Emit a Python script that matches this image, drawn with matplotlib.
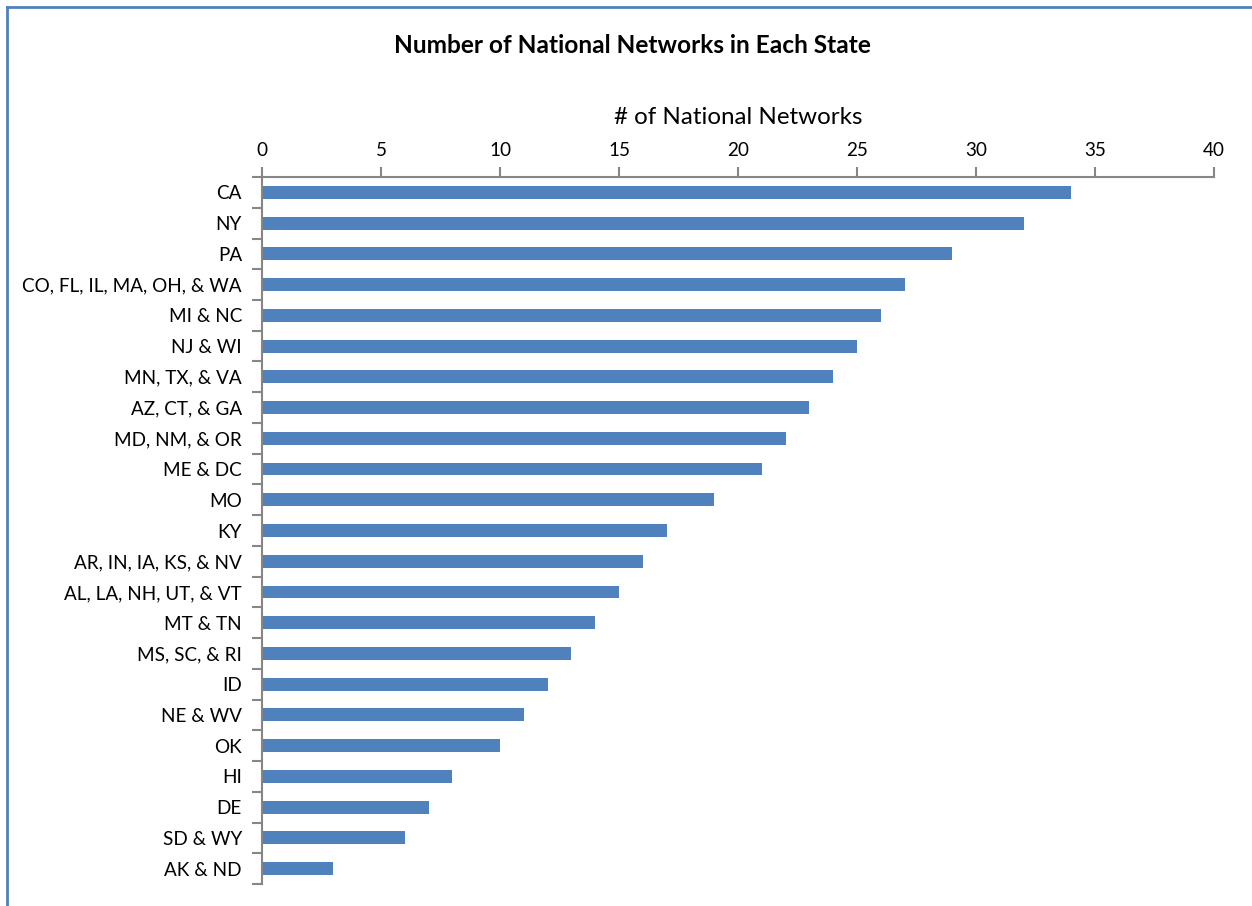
import matplotlib.pyplot as plt
from matplotlib.lines import Line2D

# ---------------------------
# Data (top to bottom)
# ---------------------------
states = ['CA', 'NY', 'PA', 'CO, FL, IL, MA, OH, & WA', 'MI & NC', 'NJ & WI',
          'MN, TX, & VA', 'AZ, CT, & GA', 'MD, NM, & OR', 'ME & DC', 'MO', 'KY',
          'AR, IN, IA, KS, & NV', 'AL, LA, NH, UT, & VT', 'MT & TN', 'MS, SC, & RI',
          'ID', 'NE & WV', 'OK', 'HI', 'DE', 'SD & WY', 'AK & ND']
networks = [34, 32, 29, 27, 26, 25, 24, 23, 22, 21, 19, 17,
            16, 15, 14, 13, 12, 11, 10, 8, 7, 6, 3]
x_ticks = [0, 5, 10, 15, 20, 25, 30, 35, 40]

plt.rcParams['font.family'] = ['Lato', 'DejaVu Sans']

bar_color = '#4F81BD'
axis_color = '#868686'

fig = plt.figure(figsize=(12.52, 9.06), dpi=100)
ax = fig.add_axes([0.2093, 0.0243, 0.7604, 0.7803])

ypos = list(range(len(states)))
ax.barh(ypos, networks, height=0.42, color=bar_color)

ax.set_xlim(0, 40)
ax.set_ylim(len(states) - 0.5, -0.5)
ax.set_yticks(ypos)
ax.set_yticklabels(states, fontsize=13.6)
ax.set_yticks([i - 0.5 for i in range(len(states) + 1)], minor=True)

ax.xaxis.tick_top()
ax.xaxis.set_label_position('top')
ax.set_xticks(x_ticks)
ax.set_xticklabels([str(t) for t in x_ticks], fontsize=13.6)
ax.set_xlabel('# of National Networks', fontsize=17.4, labelpad=13)

for side in ['right', 'bottom']:
    ax.spines[side].set_visible(False)
for side in ['top', 'left']:
    ax.spines[side].set_color(axis_color)
    ax.spines[side].set_linewidth(1.5)

ax.tick_params(axis='y', which='major', length=0, pad=14.5)
ax.tick_params(axis='y', which='minor', length=7, width=1.5, color=axis_color)
ax.tick_params(axis='x', length=7, width=1.5, color=axis_color, pad=6)

fig.text(0.505, 0.95, 'Number of National Networks in Each State',
         ha='center', va='center', fontsize=17.6, fontweight='bold')

# chart frame (left and top edges visible)
frame_color = '#4F81BD'
fig.add_artist(Line2D([7 / 1252, 7 / 1252], [0, 1 - 7 / 906],
                      transform=fig.transFigure, color=frame_color, lw=2))
fig.add_artist(Line2D([7 / 1252, 1], [1 - 7 / 906, 1 - 7 / 906],
                      transform=fig.transFigure, color=frame_color, lw=2))

fig.savefig('out.png', dpi=100)
